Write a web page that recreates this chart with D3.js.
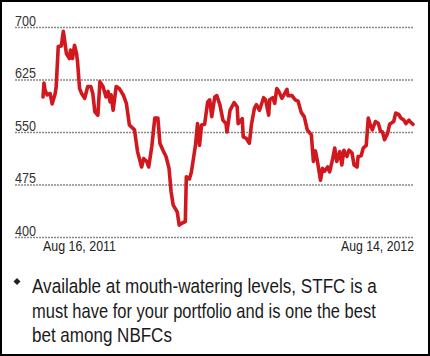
<!DOCTYPE html>
<html><head><meta charset="utf-8">
<script src="https://cdn.jsdelivr.net/npm/d3@7"></script>
<style>html,body{margin:0;padding:0;background:#fff;}svg{display:block;}</style>
</head><body>
<script>
// Day offsets from Aug 16, 2011 and closing prices
const days = [0,1,2,4,7,9,12,13,15,18,20,21,23,26,27,29,31,33,34,36,38,41,44,47,49,51,54,56,59,62,64,66,67,69,72,75,79,82,85,90,93,97,99,102,104,107,110,113,115,118,121,124,126,128,132,134,137,140,141,144,146,150,152,154,156,159,162,164,166,169,171,174,177,180,181,184,188,191,192,196,197,200,202,203,205,208,210,213,217,219,222,223,226,228,230,232,235,237,240,241,245,248,251,254,257,260,264,266,268,270,273,275,277,280,282,285,287,289,292,294,296,299,301,304,306,309,310,313,315,318,320,322,324,327,330,332,334,336,339,341,345,347,350,352,355,357,360,361,364];
const prices = [600,620,610,603,605,590,605,615,672,673,694,684,662,655,667,655,674,662,650,612,605,598,615,615,605,579,574,622,615,600,608,593,603,581,615,612,603,591,560,553,522,500,512,508,500,529,570,570,534,524,515,498,465,446,436,417,420,422,486,483,493,531,562,531,560,561,593,596,572,600,602,589,567,562,550,581,592,586,562,569,543,541,536,534,560,584,589,581,599,596,574,596,599,591,612,608,598,603,611,602,602,596,594,578,572,553,546,508,523,508,481,498,494,500,493,512,527,508,522,503,524,515,524,520,503,500,515,516,527,531,570,560,553,565,562,551,550,539,548,561,565,577,575,570,567,562,567,565,561];
const yTicks = [400,475,550,625,700];
const xLabels = ["Aug 16, 2011","Aug 14, 2012"];
const noteLines = ["Available at mouth-watering levels, STFC is a","must have for your portfolio and is one the best","bet among NBFCs"];

const W = 430, H = 356;
const svg = d3.select("body").append("svg").attr("width", W).attr("height", H);
const font = "'Liberation Sans', Arial, Helvetica, sans-serif";

svg.append("rect").attr("x",1).attr("y",1).attr("width",W-2).attr("height",H-2)
  .attr("fill","#fff").attr("stroke","#000").attr("stroke-width",2);

const x = d3.scaleLinear().domain([0,364]).range([43,413]);
const y = d3.scaleLinear().domain([400,700]).range([237,27]);

// draw a text condensed horizontally: natural font size gives target width, vertical scale gives target height
function fitText(g, str, px, py, targetW, size, fill, anchorEnd) {
  const t = g.append("text").attr("font-family",font).attr("font-size",size).attr("fill",fill).text(str);
  const w = t.node().getComputedTextLength();
  const fs = size * targetW / w;
  t.attr("font-size", fs)
   .attr("transform", `translate(${anchorEnd ? px - targetW : px},${py}) scale(1,${size/fs})`);
  return t;
}

// gridlines
const grid = svg.append("g");
grid.selectAll("line").data(yTicks).join("line")
  .attr("x1",15).attr("x2",414)
  .attr("y1",d=>y(d)+0.5).attr("y2",d=>y(d)+0.5)
  .attr("stroke","#8a8a8a").attr("stroke-width",1.3).attr("stroke-dasharray","2,1");

// y labels
const yl = svg.append("g");
yTicks.forEach(d => fitText(yl, String(d), 15, y(d)-1.5, 21, 14.5, "#333"));

// x labels
const xl = svg.append("g");
fitText(xl, xLabels[0], 43, 251, 73, 14.5, "#222");
fitText(xl, xLabels[1], 414, 251, 73, 14.5, "#222", true);

// line
const pts = days.map((d,i)=>[d,prices[i]]);
svg.append("path").datum(pts)
  .attr("fill","none").attr("stroke","#d2181f").attr("stroke-width",3.6)
  .attr("stroke-linejoin","round").attr("stroke-linecap","round")
  .attr("d", d3.line().x(d=>x(d[0])).y(d=>y(d[1])));

// bullet note
svg.append("path").attr("d","M17,278 L20.5,281.5 L17,285 L13.5,281.5 Z").attr("fill","#222");
const widths = [345,344,140];
const baselines = [293,317.5,342];
const nt = svg.append("g");
noteLines.forEach((s,i) => fitText(nt, s, 32, baselines[i], widths[i], 20.5, "#1a1a1a"));
</script>
</body></html>
